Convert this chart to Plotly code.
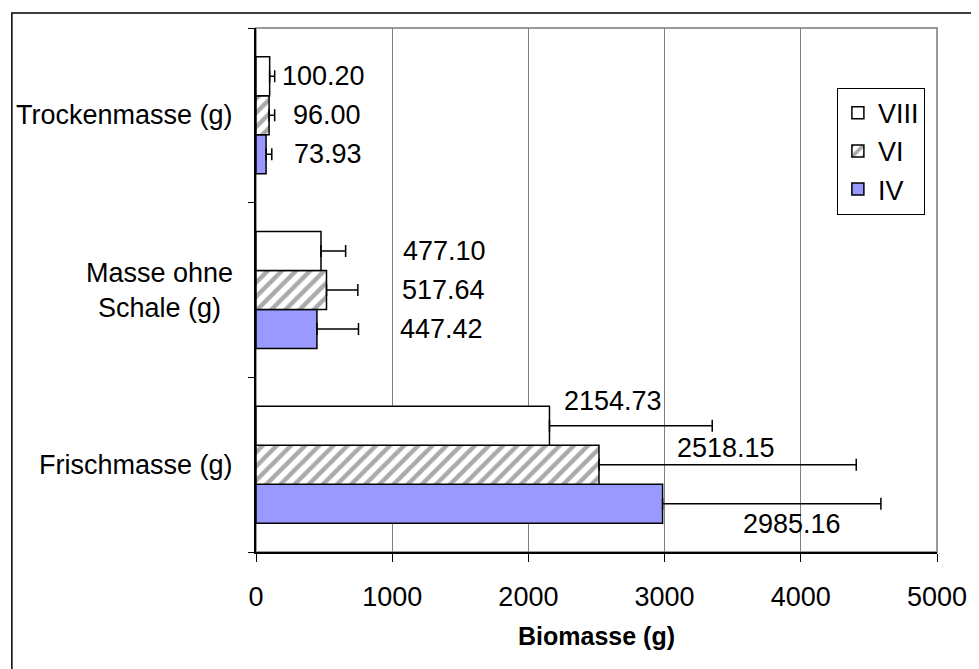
import plotly.graph_objects as go

categories = ["Frischmasse (g)", "Masse ohne Schale (g)", "Trockenmasse (g)"]
category_labels = ["Frischmasse (g)", "Masse ohne<br>Schale (g)", "Trockenmasse (g)"]
series_names = ["IV", "VI", "VIII"]
values_IV = [2985.16, 447.42, 73.93]
values_VI = [2518.15, 517.64, 96.00]
values_VIII = [2154.73, 477.10, 100.20]
err_IV = [1603, 305, 42]
err_VI = [1889, 230, 41]
err_VIII = [1195, 181, 37]
x_ticks = [0, 1000, 2000, 3000, 4000, 5000]

values = [values_IV, values_VI, values_VIII]
errors = [err_IV, err_VI, err_VIII]

# styles
FONT = "Liberation Sans, Arial, sans-serif"
FS = 27
markers = [
    dict(color="#9999FF", line=dict(color="black", width=1.5)),
    dict(color="white", line=dict(color="black", width=1.5),
         pattern=dict(shape="/", fgcolor="#555555", bgcolor="white", size=10, solidity=0.45)),
    dict(color="white", line=dict(color="black", width=1.5)),
]
# label pixel offsets (series x category)
label_dx = [[78, 81, 26], [76, 73, 22], [13, 80, 10]]
label_dy = [[-20, 0, 0], [17, 0, 0], [25, 0, 0]]

bargap = 0.33
fig = go.Figure()
for i, name in enumerate(series_names):
    fig.add_trace(go.Bar(
        name=name, y=categories, x=values[i], orientation="h",
        marker=markers[i],
        error_x=dict(type="data", array=errors[i], arrayminus=[0] * len(categories),
                     symmetric=False, color="black", thickness=1.5, width=6),
    ))

w = (1 - bargap) / len(series_names)
annotations = []
for i in range(len(series_names)):
    for j in range(len(categories)):
        annotations.append(dict(
            x=values[i][j], y=j + (i - 1) * w, xref="x", yref="y",
            text=f"{values[i][j]:.2f}", showarrow=False,
            xanchor="left", yanchor="middle",
            xshift=label_dx[i][j], yshift=label_dy[i][j],
            font=dict(family=FONT, size=FS, color="black"),
        ))
for j, lab in enumerate(category_labels):
    annotations.append(dict(
        x=0, y=j, xref="paper", yref="y", text=lab, showarrow=False,
        xanchor="right", yanchor="middle", align="center", xshift=-21,
        font=dict(family=FONT, size=FS, color="black"),
    ))

# the page body has an 8px default margin, so the figure is sized to fit the window
fig.update_layout(
    width=971, height=661,
    margin=dict(l=248, r=34, t=20, b=117),
    paper_bgcolor="white", plot_bgcolor="white",
    barmode="group", bargap=bargap, bargroupgap=0,
    font=dict(family=FONT, size=FS, color="black"),
    showlegend=True,
    legend=dict(x=0.853, y=0.886, xanchor="left", yanchor="top",
                traceorder="reversed", bordercolor="black", borderwidth=1,
                bgcolor="white", font=dict(family=FONT, size=FS)),
    annotations=annotations,
    shapes=[
        dict(type="rect", xref="paper", yref="paper", x0=-0.3585, x1=1.2,
             y0=1.0286, y1=-0.4, line=dict(color="black", width=1.5)),
        dict(type="rect", xref="x domain", yref="y domain", x0=0, x1=1, y0=0, y1=1,
             line=dict(color="#999999", width=2), layer="below"),
    ],
)
fig.update_xaxes(
    range=[0, 5000], tickvals=x_ticks, ticktext=[str(t) for t in x_ticks],
    showgrid=True, gridcolor="#808080", gridwidth=1,
    showline=True, linecolor="black", linewidth=1.5,
    ticks="outside", ticklen=8, tickcolor="black", tickwidth=1,
    ticklabelstandoff=12, zeroline=False,
    tickfont=dict(family=FONT, size=FS),
    title=dict(text="<b>Biomasse (g)</b>", font=dict(family=FONT, size=25), standoff=16),
)
fig.update_yaxes(
    type="category", categoryorder="array", categoryarray=categories,
    range=[-0.5, 2.5], showticklabels=False,
    showline=True, linecolor="black", linewidth=1.5,
    ticks="outside", tickson="boundaries", ticklen=6, tickcolor="black",
    showgrid=False, zeroline=False,
)
fig.write_html("out.html")
